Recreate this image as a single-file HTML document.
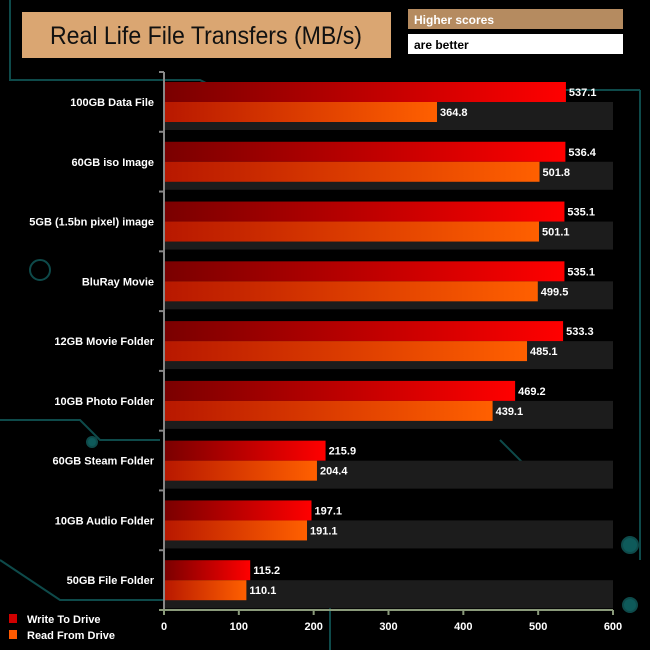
<!DOCTYPE html>
<html><head><meta charset="utf-8"><style>
body{margin:0;background:#000;}
svg{display:block;font-family:"Liberation Sans",Arial,sans-serif;}
</style></head><body>
<svg id="chart" width="650" height="650" viewBox="0 0 650 650">
<defs>
<linearGradient id="gw" x1="0" x2="1" y1="0" y2="0"><stop offset="0" stop-color="#7a0000"/><stop offset="1" stop-color="#ff0000"/></linearGradient>
<linearGradient id="gr" x1="0" x2="1" y1="0" y2="0"><stop offset="0" stop-color="#b81800"/><stop offset="1" stop-color="#ff6000"/></linearGradient>
</defs>
<rect width="650" height="650" fill="#000"/>
<g stroke="#0e4a4a" stroke-width="2" fill="none">
<path d="M10 0 V80 H200 L220 90 H640"/><path d="M0 420 H80 L100 440 H160"/><path d="M640 90 V560"/>
<path d="M0 560 L60 600 H164"/><path d="M330 650 V590"/><path d="M500 440 L540 480 L600 470"/>
<circle cx="630" cy="545" r="8" fill="#0e5a5a"/><circle cx="630" cy="605" r="7" fill="#0e5a5a"/><circle cx="40" cy="270" r="10"/><circle cx="92" cy="442" r="5" fill="#0e5a5a"/>
</g>
<rect x="22" y="12" width="369" height="46" fill="#daa672"/>
<text x="50" y="44" textLength="312" lengthAdjust="spacingAndGlyphs" font-size="25" fill="#111">Real Life File Transfers (MB/s)</text>
<rect x="408" y="9" width="215" height="20" fill="#b58b60"/>
<text x="414" y="24" font-size="12" font-weight="bold" fill="#fff">Higher scores</text>
<rect x="408" y="34" width="215" height="20" fill="#fff"/>
<text x="414" y="49" font-size="12" font-weight="bold" fill="#000">are better</text>
<g id="plot"></g>
<rect x="9" y="614" width="8" height="9" fill="#d00000"/>
<text x="27" y="623" font-size="11" font-weight="bold" fill="#fff">Write To  Drive</text>
<rect x="9" y="630" width="8" height="9" fill="#ff5a00"/>
<text x="27" y="639" font-size="11" font-weight="bold" fill="#fff">Read From  Drive</text>
</svg>
<script>
const categories=["100GB Data File","60GB iso Image","5GB (1.5bn pixel) image","BluRay Movie","12GB Movie Folder","10GB Photo Folder","60GB Steam Folder","10GB Audio Folder","50GB File Folder"];
const writeValues=[537.1,536.4,535.1,535.1,533.3,469.2,215.9,197.1,115.2];
const readValues=[364.8,501.8,501.1,499.5,485.1,439.1,204.4,191.1,110.1];
const xTicks=[0,100,200,300,400,500,600];
const NS="http://www.w3.org/2000/svg";
const X0=164,X1=613,Y0=72,Y1=610,XMAX=600;
const gh=(Y1-Y0)/categories.length;
const x=v=>X0+(v/XMAX)*(X1-X0);
const g=document.getElementById('plot');
function mk(t,a,txt){const e=document.createElementNS(NS,t);for(const k in a)e.setAttribute(k,a[k]);if(txt!==undefined)e.textContent=txt;g.appendChild(e);return e;}
categories.forEach((c,i)=>{
const top=Y0+i*gh;
let e=mk('rect',{x:X0,y:top+30,width:X1-X0,height:28,fill:'#1c1c1c'});


e=mk('rect',{x:X0,y:top+10,width:x(writeValues[i])-X0,height:20,fill:'url(#gw)'});


e=mk('rect',{x:X0,y:top+30,width:x(readValues[i])-X0,height:20,fill:'url(#gr)'});


e=mk('text',{x:x(writeValues[i])+3,y:top+24,'font-size':11,'font-weight':'bold',fill:'#fff'},writeValues[i].toFixed(1));


e=mk('text',{x:x(readValues[i])+3,y:top+44,'font-size':11,'font-weight':'bold',fill:'#fff'},readValues[i].toFixed(1));


e=mk('text',{x:154,y:top+34,'font-size':11,'font-weight':'bold',fill:'#fff','text-anchor':'end'},c);


e=mk('line',{x1:159,x2:164,y1:top,y2:top,stroke:'#888','stroke-width':2});


});
let ax=mk('line',{x1:X0,x2:X0,y1:Y0,y2:Y1,stroke:'#888','stroke-width':2});


ax=mk('line',{x1:159,x2:X1,y1:Y1,y2:Y1,stroke:'#8a9a7a','stroke-width':2});


xTicks.forEach(t=>{
let e=mk('line',{x1:x(t),x2:x(t),y1:Y1,y2:Y1+5,stroke:'#8a9a7a','stroke-width':2});


e=mk('text',{x:x(t),y:Y1+20,'font-size':11,'font-weight':'bold',fill:'#fff','text-anchor':'middle'},t);


});
</script>
</body></html>
